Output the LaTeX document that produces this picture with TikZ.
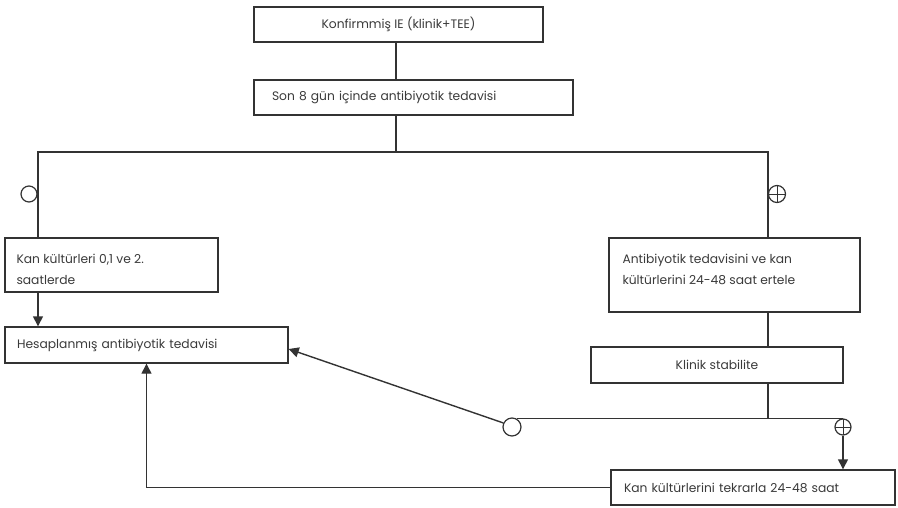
\documentclass[tikz,border=0pt]{standalone}
\usepackage{fontspec}
\setmainfont{Poppins}
\usetikzlibrary{arrows.meta}
\definecolor{ln}{HTML}{333333}
\definecolor{tx}{HTML}{3A3A3A}
\tikzset{
  box/.style={draw=ln, line width=1.4pt, rectangle, inner sep=0pt, text=tx,
    font=\fontsize{12.3}{21}\selectfont},
  lbox/.style={box, align=left},
  txt/.style={inner sep=0pt, text=tx, align=left, font=\fontsize{12.3}{21}\selectfont},
  wire/.style={draw=ln, line width=1.4pt},
  arr/.style={wire, -{Triangle[length=10pt,width=10pt]}},
  neg/.style={circle, draw=ln, line width=1.2pt, fill=white, minimum size=#1, inner sep=0pt},
  pos/.style={neg=#1, path picture={
      \draw[ln, line width=1pt] (path picture bounding box.north) -- (path picture bounding box.south)
        (path picture bounding box.west) -- (path picture bounding box.east);}},
}
\begin{document}
\begin{tikzpicture}[x=1pt, y=-1pt]
\useasboundingbox (0,0) rectangle (898,507);
% boxes
\node[box, minimum width=289pt, minimum height=35pt] (b1) at (398.5,24.5) {Konfirmmiş IE (klinik+TEE)};
\node[lbox, minimum width=319pt, minimum height=35pt, text width=283pt] (b2) at (413.5,97.5) {Son 8 gün içinde antibiyotik tedavisi};
\node[box, minimum width=213pt, minimum height=54pt] (b3) at (111.5,265) {};
\node[txt, anchor=north west] (b3t) at ([xshift=12pt, yshift=-17pt]b3.north west) {Kan kültürleri 0,1 ve 2.\\ saatlerde};
\node[box, minimum width=251pt, minimum height=74pt] (b4) at (734.5,275) {};
\node[txt, anchor=north west] (b4t) at ([xshift=14pt, yshift=-17pt]b4.north west) {Antibiyotik tedavisini ve kan\\ kültürlerini 24-48 saat ertele};
\node[lbox, minimum width=283pt, minimum height=36pt, text width=259pt] (b5) at (146.5,345) {Hesaplanmış antibiyotik tedavisi};
\node[box, minimum width=252pt, minimum height=36pt] (b6) at (717,365) {Klinik stabilite};
\node[lbox, minimum width=284pt, minimum height=35pt, text width=258pt] (b7) at (753,487.5) {Kan kültürlerini tekrarla 24-48 saat};
% junctions
\coordinate (j) at (396,152);
\coordinate (jl) at (38,152);
\coordinate (jr) at (768,152);
% connectors
\draw[wire] (b1.south -| j) -- (b2.north -| j);
\draw[wire] (b2.south -| j) -- (j);
\draw[wire] (jl |- b3.north) -- (jl) -- (jr) -- (jr |- b4.north);
\draw[arr] (jl |- b3.south) -- (jl |- b5.north);
\draw[wire] (jr |- b4.south) -- (jr |- b6.north);
% decision markers
\node[neg=16pt] (c1) at (29,194) {};
\node[pos=17pt] (c2) at (777,194) {};
\node[neg=18pt] (c3) at (512,427) {};
\node[pos=16pt] (c4) at (843,427) {};
\draw[wire] (c3.60 |- c4.north) -- (c4.north);
\draw[wire] (jr |- b6.south) -- (jr |- c4.north);
\draw[arr] (c4.south) -- (c4.south |- b7.north);
\draw[arr] (c3.155) -- ([yshift=-4pt]b5.east);
\draw[arr] (b7.west) -| (b5.south);
\end{tikzpicture}
\end{document}
